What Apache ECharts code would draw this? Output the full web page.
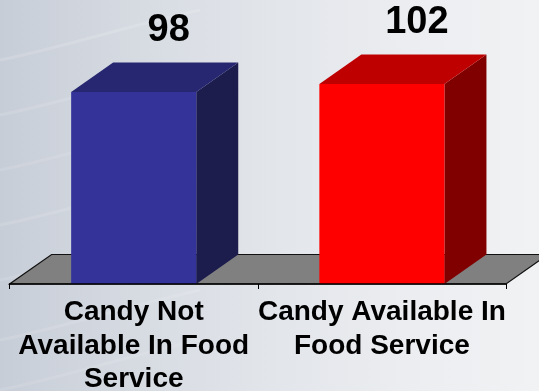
<!DOCTYPE html>
<html>
<head>
<meta charset="utf-8">
<script src="https://cdn.jsdelivr.net/npm/echarts@6/dist/echarts.min.js"></script>
<style>
  html, body { margin: 0; padding: 0; }
  #chart {
    width: 539px; height: 391px;
    background: linear-gradient(90deg, #c7cdd7 0%, #d6dbe2 25%, #e2e5ea 50%, #ebedf0 75%, #f0f2f4 100%);
  }
</style>
</head>
<body>
<div id="chart"></div>
<script>
// Survey groups and their index values
const categories = ['Candy Not\nAvailable In Food\nService', 'Candy Available In\nFood Service'];
const values = [98, 102];

// Face colours for each prism: front, top, side
const frontColors = ['#333399', '#ff0000'];
const topColors = ['#262671', '#bf0000'];
const sideColors = ['#1c1c4d', '#800000'];

// Perspective offset of the 3D depth
const DEPTH_X = 42;
const DEPTH_Y = 29.5;
const FONT = '"Liberation Sans", Arial, sans-serif';

const chart = echarts.init(document.getElementById('chart'), null, { renderer: 'canvas' });

function renderFloor(params, api) {
  const cs = params.coordSys;
  const yf = api.coord([0, 0])[1];
  const xs = cs.x, xe = cs.x + cs.width;
  return {
    type: 'polygon',
    shape: { points: [[xs, yf], [xe, yf], [xe + DEPTH_X, yf - DEPTH_Y], [xs + DEPTH_X, yf - DEPTH_Y]] },
    style: { fill: '#808080', stroke: '#111', lineWidth: 1.2 }
  };
}

function renderBar(params, api) {
  const i = params.dataIndex;
  const v = api.value(1);
  const base = api.coord([api.value(0), 0]);
  const top = api.coord([api.value(0), v]);
  const band = api.size([1, 0])[0];
  const w = band * 0.504;
  const x0 = base[0] - w / 2, x1 = base[0] + w / 2;
  const yb = base[1], yt = top[1];
  return {
    type: 'group',
    children: [
      {
        type: 'polygon',
        shape: { points: [[x1, yt], [x1 + DEPTH_X, yt - DEPTH_Y], [x1 + DEPTH_X, yb - DEPTH_Y], [x1, yb]] },
        style: { fill: sideColors[i] }
      },
      {
        type: 'polygon',
        shape: { points: [[x0, yt], [x1, yt], [x1 + DEPTH_X, yt - DEPTH_Y], [x0 + DEPTH_X, yt - DEPTH_Y]] },
        style: { fill: topColors[i] }
      },
      {
        type: 'rect',
        shape: { x: x0, y: yt, width: w, height: yb - yt },
        style: { fill: frontColors[i] }
      },
      {
        type: 'text',
        style: {
          text: String(v),
          x: base[0] + 35,
          y: yt - DEPTH_Y - 32,
          align: 'center',
          verticalAlign: 'middle',
          font: 'bold 38px ' + FONT,
          fill: '#000'
        }
      }
    ]
  };
}

// faint light streaks across the left of the backdrop
const streaks = [];
[[40, 0.14], [95, 0.12], [150, 0.1], [205, 0.12], [260, 0.1], [320, 0.12], [370, 0.1]].forEach(function (s) {
  streaks.push({
    type: 'bezierCurve',
    silent: true,
    z: -10,
    shape: { x1: 0, y1: s[0] + 20, cpx1: 60, cpy1: s[0] + 8, cpx2: 120, cpy2: s[0] - 12, x2: 200, y2: s[0] - 30 },
    style: { stroke: 'rgba(255,255,255,' + s[1] + ')', lineWidth: 3, fill: null }
  });
});

chart.setOption({
  backgroundColor: 'transparent',
  animation: false,
  graphic: { elements: streaks },
  grid: { left: 9.6, right: 33, top: 48.8, bottom: 107, containLabel: false, outerBoundsMode: 'none' },
  xAxis: {
    type: 'category',
    data: categories,
    z: 5,
    axisLine: { show: true, lineStyle: { color: '#000', width: 1.5 } },
    axisTick: { show: true, length: 5, lineStyle: { color: '#000', width: 1 } },
    axisLabel: {
      interval: 0,
      margin: 12,
      color: '#000',
      fontSize: 28,
      fontWeight: 'bold',
      fontFamily: FONT,
      lineHeight: 33.5
    }
  },
  yAxis: {
    type: 'value',
    min: 0,
    max: 120,
    show: false,
    splitLine: { show: false }
  },
  series: [
    {
      type: 'custom',
      z: 1,
      renderItem: renderFloor,
      data: [[0, 0]],
      clip: false
    },
    {
      type: 'custom',
      z: 2,
      renderItem: renderBar,
      data: values.map((v, i) => [i, v]),
      clip: false
    }
  ]
});
</script>
</body>
</html>
